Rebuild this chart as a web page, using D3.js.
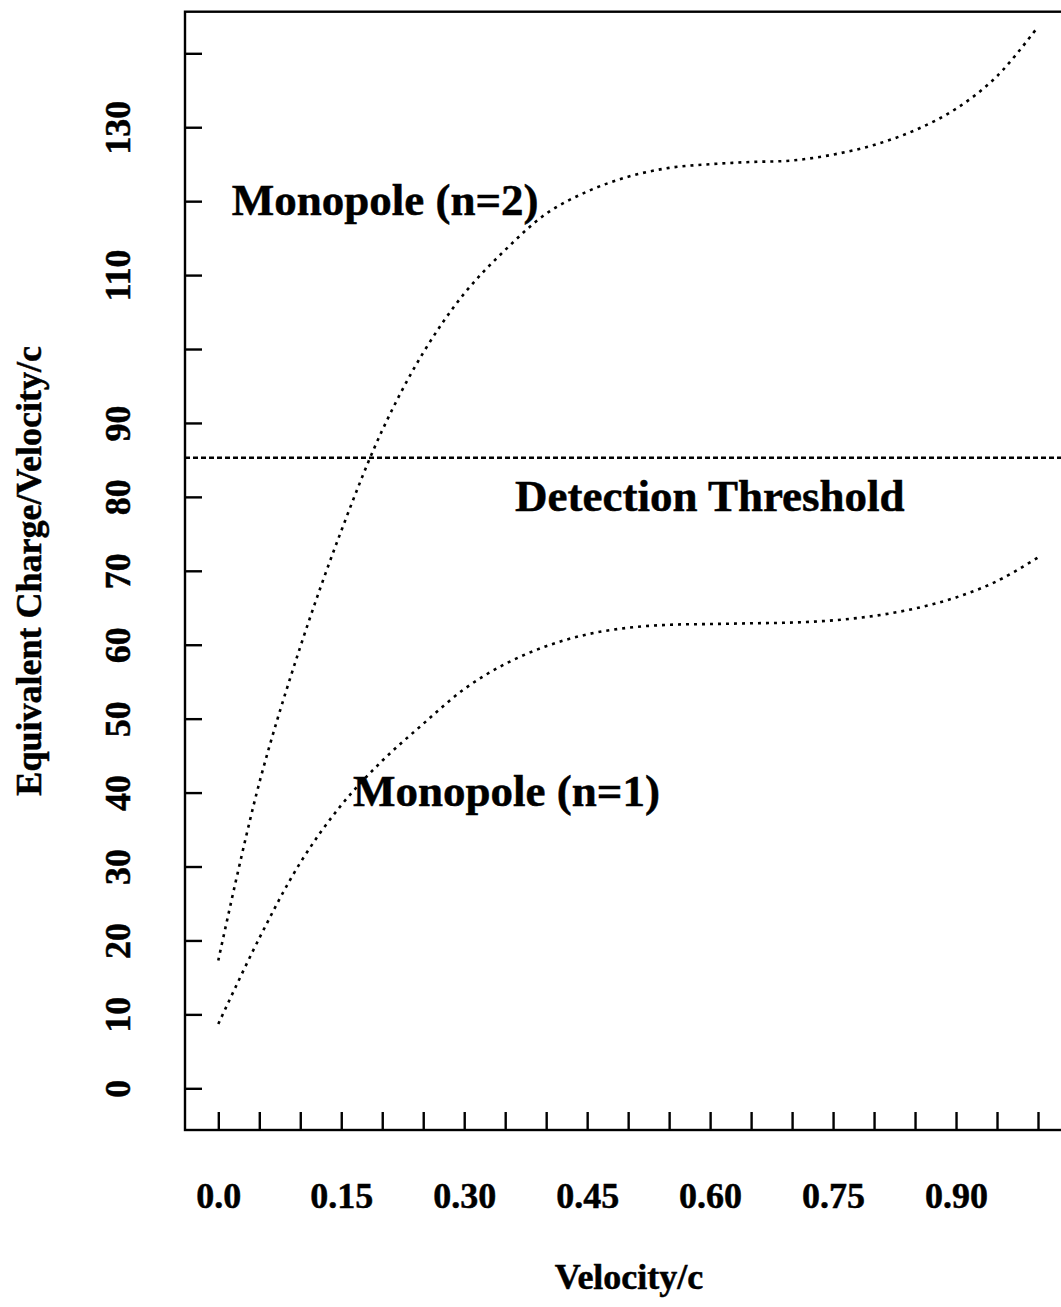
<!DOCTYPE html>
<html>
<head>
<meta charset="utf-8">
<script src="https://cdn.jsdelivr.net/npm/d3@7"></script>
<style>
  html, body { margin: 0; padding: 0; background: #fff; }
  svg { display: block; }
  text { font-family: "Liberation Serif", "Times New Roman", serif; font-weight: bold; fill: #000; stroke: #000; stroke-width: 0.5px; }
</style>
</head>
<body>
<svg id="chart" width="1061" height="1307"></svg>
<script>
// Velocity (fraction of c) at which each curve is sampled
const velocity = [0, 0.05, 0.10, 0.15, 0.20, 0.25, 0.30, 0.35, 0.40, 0.45, 0.50,
                  0.55, 0.60, 0.65, 0.70, 0.75, 0.80, 0.85, 0.90, 0.95, 1.00];

// Equivalent charge / velocity for a monopole of charge n = 1
const monopoleN1 = [8.7, 20.3, 30.5, 38.3, 44.3, 49.3, 54.0, 57.4, 59.8, 61.4, 62.3,
                    62.7, 62.8, 62.9, 63.0, 63.3, 63.9, 64.9, 66.4, 68.6, 71.8];

// Equivalent charge / velocity for a monopole of charge n = 2
const monopoleN2 = [17.3, 41.3, 59.7, 75.4, 89.0, 99.5, 107.5, 113.4, 118.3, 121.3, 123.3,
                    124.5, 125.0, 125.3, 125.5, 126.3, 127.6, 129.6, 132.5, 136.9, 143.6];

// Detection threshold level
const detectionThreshold = 85.3;

// Axis ticks and labels
const xTicks = [0, 0.05, 0.10, 0.15, 0.20, 0.25, 0.30, 0.35, 0.40, 0.45, 0.50,
                0.55, 0.60, 0.65, 0.70, 0.75, 0.80, 0.85, 0.90, 0.95, 1.00];
const xLabelValues = [0, 0.15, 0.30, 0.45, 0.60, 0.75, 0.90];
const xLabels = ["0.0", "0.15", "0.30", "0.45", "0.60", "0.75", "0.90"];

const yTicks = [0, 10, 20, 30, 40, 50, 60, 70, 80, 90, 100, 110, 120, 130, 140];
const yLabelValues = [0, 10, 20, 30, 40, 50, 60, 70, 80, 90, 110, 130];
const yLabels = ["0", "10", "20", "30", "40", "50", "60", "70", "80", "90", "110", "130"];

// Curve annotations: [label, velocity, value] of the text start / baseline
const annotations = [
  ["Monopole (n=2)", 0.0163, 118.1],
  ["Detection Threshold", 0.362, 78.1],
  ["Monopole (n=1)", 0.1643, 38.2]
];

const xTitle = "Velocity/c";
const yTitle = "Equivalent Charge/Velocity/c";

// ---- layout ----
const svg = d3.select("#chart");
const frame = { left: 185, top: 11.7, right: 1064, bottom: 1130 };

const x = d3.scaleLinear().domain([0, 1]).range([218.3, 1038]);
const y = d3.scaleLinear().domain([0, 140]).range([1088.3, 53.3]);

// plot frame (right edge runs past the page)
svg.append("rect")
  .attr("x", frame.left).attr("y", frame.top)
  .attr("width", frame.right - frame.left).attr("height", frame.bottom - frame.top)
  .attr("fill", "none").attr("stroke", "#000").attr("stroke-width", 2.4);

// y axis: inward ticks, rotated labels
const yAxis = svg.append("g")
  .attr("transform", `translate(${frame.left},0)`)
  .call(d3.axisLeft(y).tickValues(yTicks).tickSizeInner(-17).tickSizeOuter(0)
    .tickFormat(d => { const i = yLabelValues.indexOf(d); return i >= 0 ? yLabels[i] : ""; }));
yAxis.select(".domain").remove();
yAxis.selectAll(".tick line").attr("stroke", "#000").attr("stroke-width", 2.4);
yAxis.selectAll(".tick text")
  .attr("x", null).attr("dy", null)
  .attr("transform", "translate(-55,0) rotate(-90)")
  .attr("text-anchor", "middle")
  .style("font-size", "36px");

// x axis: inward ticks
const xAxis = svg.append("g")
  .attr("transform", `translate(0,${frame.bottom})`)
  .call(d3.axisBottom(x).tickValues(xTicks).tickSizeInner(-18).tickSizeOuter(0)
    .tickFormat(d => { const i = xLabelValues.findIndex(v => Math.abs(v - d) < 1e-9); return i >= 0 ? xLabels[i] : ""; }));
xAxis.select(".domain").remove();
xAxis.selectAll(".tick line").attr("stroke", "#000").attr("stroke-width", 2.4);
xAxis.selectAll(".tick text")
  .attr("y", 78).attr("dy", null)
  .attr("text-anchor", "middle")
  .style("font-size", "36px");

// axis titles
svg.append("text")
  .attr("transform", `translate(41,${(y(0) + y(140)) / 2}) rotate(-90)`)
  .attr("text-anchor", "middle")
  .style("font-size", "36px")
  .text(yTitle);

svg.append("text")
  .attr("x", 629).attr("y", 1289)
  .attr("text-anchor", "middle")
  .style("font-size", "36px")
  .text(xTitle);

// threshold line
svg.append("line")
  .attr("x1", frame.left).attr("x2", frame.right)
  .attr("y1", y(detectionThreshold)).attr("y2", y(detectionThreshold))
  .attr("stroke", "#000").attr("stroke-width", 2.4)
  .attr("stroke-dasharray", "5 3");

// dotted curves
const line = d3.line()
  .x((d, i) => x(velocity[i]))
  .y(d => y(d))
  .curve(d3.curveCatmullRom.alpha(0.5));

[monopoleN1, monopoleN2].forEach(series => {
  svg.append("path")
    .attr("d", line(series))
    .attr("fill", "none")
    .attr("stroke", "#000")
    .attr("stroke-width", 2.6)
    .attr("stroke-dasharray", "3 5");
});

// curve annotations
annotations.forEach(([label, vx, vy]) => {
  svg.append("text")
    .attr("x", x(vx)).attr("y", y(vy))
    .style("font-size", "45px")
    .text(label);
});
</script>
</body>
</html>
